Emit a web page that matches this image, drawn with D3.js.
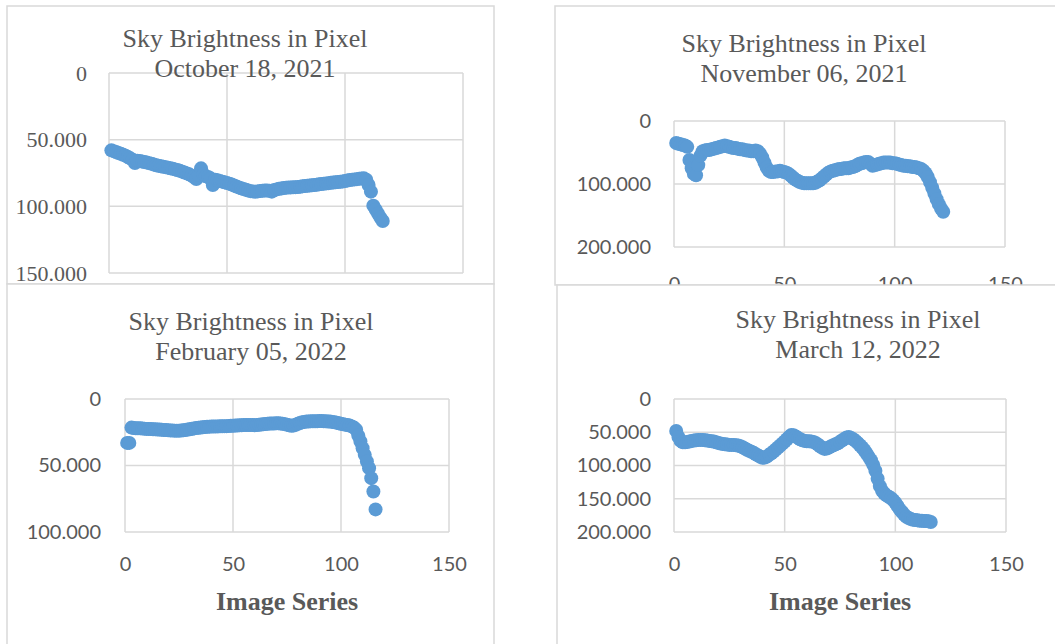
<!DOCTYPE html>
<html>
<head>
<meta charset="utf-8">
<script src="https://cdn.jsdelivr.net/npm/d3@7"></script>
<style>
  body { margin: 0; background: #fff; }
  svg { display: block; }
</style>
</head>
<body>
<div id="chart"></div>
<script>
const chartTitle = "Sky Brightness in Pixel";
const xAxisTitle = "Image Series";
const xTicks = [0, 50, 100, 150];

const octDate = "October 18, 2021";
const octYTicks = [0, 50, 100, 150];
const octValues = [
  58.0, 58.6, 59.3, 60.0, 60.6, 61.3, 62.0, 63.0, 64.0, 65.0,
  67.5, 65.8, 66.0, 66.4, 66.8, 67.2, 67.6, 68.0, 68.6, 69.2,
  69.6, 70.0, 70.3, 70.6, 71.0, 71.4, 71.8, 72.3, 72.8, 73.3,
  74.0, 74.6, 75.3, 76.0, 77.0, 78.0, 79.5, 76.5, 71.5, 76.0,
  77.5, 78.0, 79.0, 84.0, 80.0, 80.5, 81.0, 81.5, 82.0, 82.5,
  83.0, 83.7, 84.4, 85.1, 85.8, 86.5, 87.0, 87.6, 88.2, 88.6,
  88.8, 89.0, 88.8, 88.5, 88.3, 88.2, 88.2, 88.4, 89.0, 87.8,
  87.3, 86.9, 86.6, 86.3, 86.0, 85.9, 85.8, 85.7, 85.6, 85.5,
  85.3, 85.0, 84.8, 84.6, 84.4, 84.2, 84.0, 83.8, 83.5, 83.2,
  83.0, 82.8, 82.6, 82.4, 82.2, 82.0, 81.8, 81.6, 81.4, 81.0,
  80.6, 80.3, 80.0, 79.8, 79.6, 79.4, 79.2, 79.0, 80.0, 84.0,
  89.0, 99.5, 102.5, 105.5, 108.5, 111.0
];

const novDate = "November 06, 2021";
const novYTicks = [0, 100, 200];
const novValues = [
  35, 36, 37, 38, 39, 41, 62, 75, 84, 86,
  70, 55, 48, 47, 46, 46, 45, 44, 43, 42,
  41, 40, 39, 40, 41, 42, 43, 43, 44, 45,
  45, 46, 47, 47, 48, 48, 47, 48, 52, 58,
  66, 74, 79, 81, 81, 80, 80, 79, 80, 81,
  82, 84, 87, 90, 93, 95, 97, 98, 99, 99,
  99, 99, 99, 98, 96, 94, 91, 88, 85, 82,
  80, 79, 78, 77, 76, 76, 75, 75, 75, 74,
  73, 72, 70, 68, 67, 66, 65, 65, 68, 71,
  70, 69, 68, 67, 66, 66, 66, 66, 67, 67,
  68, 69, 70, 71, 71, 72, 72, 73, 73, 74,
  75, 76, 79, 83, 89, 97, 106, 115, 124, 132, 139, 144
];

const febDate = "February 05, 2022";
const febYTicks = [0, 50, 100];
const febValues = [
  33, 33, 21.5, 21.8, 22, 22, 22, 22.2, 22.3, 22.5,
  22.5, 22.6, 22.7, 22.8, 23, 23, 23.2, 23.3, 23.4, 23.5,
  23.6, 23.7, 23.8, 23.8, 23.8, 23.7, 23.5, 23.3, 23.0, 22.7,
  22.4, 22.1, 21.8, 21.6, 21.4, 21.2, 21.0, 20.9, 20.8, 20.7,
  20.7, 20.6, 20.6, 20.5, 20.5, 20.4, 20.4, 20.3, 20.2, 20.1,
  20.0, 19.9, 19.8, 19.7, 19.6, 19.6, 19.5, 19.5, 19.6, 19.7,
  19.6, 19.4, 19.2, 19.0, 18.8, 18.6, 18.5, 18.4, 18.4, 18.3,
  18.3, 18.4, 18.6, 18.9, 19.3, 19.8, 20.2, 20.0, 19.4, 18.7,
  18.0, 17.5, 17.2, 17.0, 16.9, 16.8, 16.8, 16.7, 16.7, 16.6,
  16.6, 16.7, 16.8, 16.9, 17.0, 17.2, 17.5, 17.8, 18.2, 18.6,
  19.0, 19.3, 19.6, 20.0, 20.6, 21.5, 23.0, 27.5, 32.0, 37.0,
  42.0, 47.0, 52.0, 59.5, 69.5, 83.0
];

const marDate = "March 12, 2022";
const marYTicks = [0, 50, 100, 150, 200];
const marValues = [
  48, 57, 63, 65, 65, 64.5, 64, 63, 62.5, 62,
  61.5, 61.5, 61.5, 62, 62.5, 63, 63.5, 64, 65, 66,
  67, 67.5, 68, 68.5, 69, 69, 69, 69.5, 70, 71,
  72.5, 74.5, 76.5, 78, 79.5, 81, 83, 85, 87, 88.5,
  88, 86.5, 84, 81.5, 79, 76, 73, 70, 67, 64,
  60.5, 57, 54, 54.5, 56.5, 58.5, 60.5, 62, 63, 63.5,
  63.5, 64, 64.5, 66, 68.5, 71, 73.5, 75, 74.5, 73,
  71, 69.5, 68, 66.5, 64.5, 62, 60, 58, 57, 58.5,
  60.5, 63, 66, 69.5, 73, 77, 82, 87, 92, 99,
  108, 120, 131, 138, 142, 145, 147, 149, 152, 156,
  161, 166, 170, 174, 177, 179, 180.5, 181.5, 182, 182.5,
  183, 183, 183.5, 183.5, 184, 185
];

const serif = "'Liberation Serif', 'Times New Roman', serif";
const sans = "Lato, 'Open Sans', sans-serif";
const textColor = "#595959";
const gridColor = "#d9d9d9";
const dotColor = "#5b9bd5";

const svg = d3.select("#chart").append("svg")
  .attr("width", 1055)
  .attr("height", 644);

// frame is [x, y, w, h], plot is [left, top, right, bottom]
const panels = [
  { values: octValues, date: octDate, yTicks: octYTicks,
    frame: [7, 6, 487, 278], plot: [109, 73, 463, 273],
    title: [245, 47], tickFont: serif, tickSize: 22, labelGap: 22, xPad: null, xTitle: false },
  { values: novValues, date: novDate, yTicks: novYTicks,
    frame: [555, 6, 520, 279], plot: [674, 121, 1005, 247],
    title: [804, 52], tickFont: sans, tickSize: 20, labelGap: 23, xPad: 30, xTitle: false },
  { values: febValues, date: febDate, yTicks: febYTicks,
    frame: [7, 284, 487, 400], plot: [125, 399, 449, 532],
    title: [251, 330], tickFont: sans, tickSize: 20, labelGap: 24, xPad: 25, xTitle: true },
  { values: marValues, date: marDate, yTicks: marYTicks,
    frame: [557, 285, 520, 400], plot: [674, 399, 1006, 532],
    title: [858, 328], tickFont: sans, tickSize: 20, labelGap: 23, xPad: 25, xTitle: true }
];

function drawPanel(p) {
  const g = svg.append("g");
  const [fx, fy, fw, fh] = p.frame;
  const [left, top, right, bottom] = p.plot;

  g.append("rect")
    .attr("x", fx).attr("y", fy)
    .attr("width", fw).attr("height", fh)
    .attr("fill", "#fff")
    .attr("stroke", gridColor).attr("stroke-width", 1.5);

  const x = d3.scaleLinear().domain([0, 150]).range([left, right]);
  const y = d3.scaleLinear().domain([0, d3.max(p.yTicks)]).range([top, bottom]);

  // gridlines
  g.append("g").selectAll("line")
    .data(p.yTicks)
    .join("line")
    .attr("x1", left).attr("x2", right)
    .attr("y1", (d) => y(d)).attr("y2", (d) => y(d))
    .attr("stroke", gridColor).attr("stroke-width", 1.5);
  g.append("g").selectAll("line")
    .data(xTicks)
    .join("line")
    .attr("x1", (d) => x(d)).attr("x2", (d) => x(d))
    .attr("y1", top).attr("y2", bottom)
    .attr("stroke", gridColor).attr("stroke-width", 1.5);

  // axis labels
  g.append("g")
    .attr("transform", `translate(${left},0)`)
    .attr("color", textColor)
    .call(d3.axisLeft(y).tickValues(p.yTicks).tickSize(0).tickPadding(p.labelGap)
      .tickFormat((d) => (d === 0 ? "0" : d3.format(".3f")(d))))
    .call((a) => a.select(".domain").remove())
    .selectAll("text")
    .attr("font-family", p.tickFont)
    .attr("font-size", p.tickSize);

  // the top-left chart's x labels sit under the chart below it
  if (p.xPad !== null) {
    g.append("g")
      .attr("transform", `translate(0,${bottom})`)
      .attr("color", textColor)
      .call(d3.axisBottom(x).tickValues(xTicks).tickSize(0).tickPadding(p.xPad))
      .call((a) => a.select(".domain").remove())
      .selectAll("text")
      .attr("font-family", sans)
      .attr("font-size", 20);
  }

  // markers
  g.append("g").selectAll("circle")
    .data(p.values)
    .join("circle")
    .attr("cx", (d, i) => x(i + 1))
    .attr("cy", (d) => y(d))
    .attr("r", 7)
    .attr("fill", dotColor);

  const title = g.append("text")
    .attr("text-anchor", "middle")
    .attr("font-family", serif)
    .attr("font-size", 26)
    .attr("fill", textColor);
  title.append("tspan").attr("x", p.title[0]).attr("y", p.title[1]).text(chartTitle);
  title.append("tspan").attr("x", p.title[0]).attr("y", p.title[1] + 30).text(p.date);

  if (p.xTitle) {
    g.append("text")
      .attr("x", (left + right) / 2)
      .attr("y", 610)
      .attr("text-anchor", "middle")
      .attr("font-family", serif)
      .attr("font-size", 26)
      .attr("font-weight", "bold")
      .attr("fill", textColor)
      .text(xAxisTitle);
  }
}

panels.forEach(drawPanel);
</script>
</body>
</html>
